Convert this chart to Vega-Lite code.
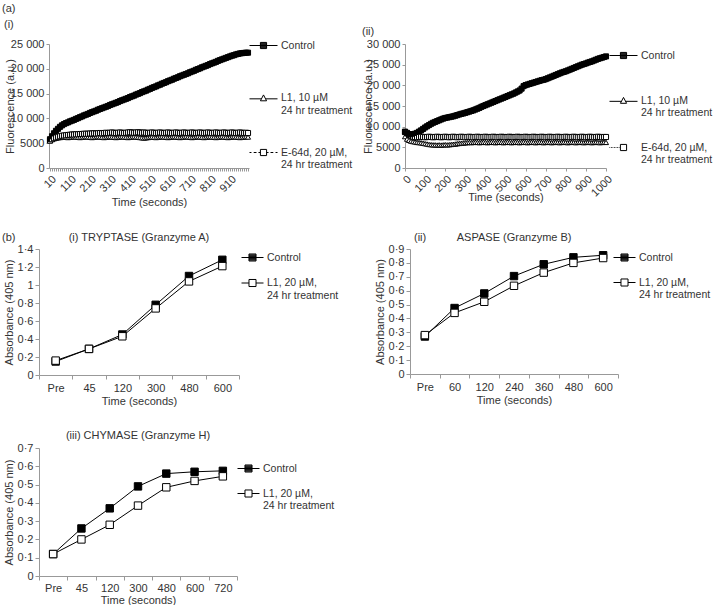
{
"$schema": "https://vega.github.io/schema/vega-lite/v6.json",
"background": "white",
"padding": {"left": 2, "top": 3, "right": 0, "bottom": 0},
"config": {
 "font": "Liberation Sans",
 "view": {"stroke": null},
 "axis": {"grid": false, "domainColor": "#999", "tickColor": "#999", "labelColor": "#333", "titleColor": "#333", "labelFontSize": 11, "titleFontSize": 11, "titleFontWeight": "normal", "tickSize": 4, "labelPadding": 2, "titlePadding": 3},
 "legend": {"labelFontSize": 10.5, "labelColor": "#333", "labelLimit": 0, "padding": 0, "offset": 2, "labelOffset": 3, "symbolStrokeColor": "black", "symbolStrokeWidth": 1, "symbolOpacity": 1},
 "title": {"fontSize": 11, "fontWeight": "normal", "color": "#333", "font": "Liberation Sans"}
},
"datasets": {
 "a1": [
{"t":10,"c":5800,"l":5600,"e":5500},{"t":20,"c":6400,"l":5800,"e":5800},{"t":30,"c":7000,"l":5950,"e":6000},{"t":40,"c":7500,"l":6050,"e":6150},{"t":50,"c":7900,"l":6100,"e":6300},{"t":60,"c":8300,"l":6150,"e":6400},{"t":70,"c":8600,"l":6200,"e":6500},{"t":80,"c":8850,"l":6250,"e":6550},{"t":90,"c":9050,"l":6200,"e":6600},{"t":100,"c":9200,"l":6150,"e":6650},
{"t":110,"c":9400,"l":6200,"e":6700},{"t":120,"c":9550,"l":6250,"e":6750},{"t":130,"c":9700,"l":6300,"e":6750},{"t":140,"c":9900,"l":6250,"e":6800},{"t":150,"c":10050,"l":6200,"e":6800},{"t":160,"c":10250,"l":6150,"e":6850},{"t":170,"c":10400,"l":6200,"e":6850},{"t":180,"c":10600,"l":6250,"e":6900},{"t":190,"c":10750,"l":6300,"e":6900},{"t":200,"c":10900,"l":6250,"e":6900},
{"t":210,"c":11100,"l":6200,"e":6950},{"t":220,"c":11250,"l":6150,"e":6950},{"t":230,"c":11400,"l":6200,"e":7000},{"t":240,"c":11550,"l":6250,"e":6950},{"t":250,"c":11750,"l":6300,"e":7000},{"t":260,"c":11900,"l":6250,"e":7050},{"t":270,"c":12050,"l":6200,"e":7000},{"t":280,"c":12200,"l":6150,"e":7050},{"t":290,"c":12350,"l":6200,"e":7100},{"t":300,"c":12500,"l":6250,"e":7050},
{"t":310,"c":12700,"l":6300,"e":7100},{"t":320,"c":12850,"l":6250,"e":7150},{"t":330,"c":13000,"l":6200,"e":7100},{"t":340,"c":13150,"l":6150,"e":7050},{"t":350,"c":13300,"l":6200,"e":7100},{"t":360,"c":13500,"l":6250,"e":7150},{"t":370,"c":13650,"l":6300,"e":7100},{"t":380,"c":13800,"l":6250,"e":7050},{"t":390,"c":13950,"l":6200,"e":7100},{"t":400,"c":14100,"l":6150,"e":7150},
{"t":410,"c":14300,"l":6200,"e":7200},{"t":420,"c":14450,"l":6250,"e":7150},{"t":430,"c":14600,"l":6300,"e":7100},{"t":440,"c":14800,"l":6250,"e":7150},{"t":450,"c":14950,"l":6200,"e":7200},{"t":460,"c":15100,"l":6150,"e":7150},{"t":470,"c":15300,"l":6100,"e":7100},{"t":480,"c":15450,"l":6050,"e":7150},{"t":490,"c":15600,"l":6100,"e":7100},{"t":500,"c":15800,"l":6150,"e":7050},
{"t":510,"c":15950,"l":6200,"e":7100},{"t":520,"c":16150,"l":6250,"e":7150},{"t":530,"c":16300,"l":6200,"e":7100},{"t":540,"c":16450,"l":6150,"e":7050},{"t":550,"c":16650,"l":6200,"e":7100},{"t":560,"c":16800,"l":6250,"e":7150},{"t":570,"c":17000,"l":6300,"e":7100},{"t":580,"c":17150,"l":6250,"e":7050},{"t":590,"c":17300,"l":6200,"e":7100},{"t":600,"c":17500,"l":6150,"e":7150},
{"t":610,"c":17650,"l":6200,"e":7100},{"t":620,"c":17800,"l":6250,"e":7050},{"t":630,"c":18000,"l":6300,"e":7100},{"t":640,"c":18150,"l":6250,"e":7150},{"t":650,"c":18300,"l":6200,"e":7100},{"t":660,"c":18500,"l":6150,"e":7050},{"t":670,"c":18650,"l":6200,"e":7100},{"t":680,"c":18800,"l":6250,"e":7150},{"t":690,"c":18950,"l":6300,"e":7100},{"t":700,"c":19100,"l":6250,"e":7050},
{"t":710,"c":19300,"l":6200,"e":7100},{"t":720,"c":19450,"l":6150,"e":7150},{"t":730,"c":19600,"l":6200,"e":7100},{"t":740,"c":19800,"l":6250,"e":7050},{"t":750,"c":19950,"l":6300,"e":7100},{"t":760,"c":20100,"l":6250,"e":7150},{"t":770,"c":20300,"l":6200,"e":7100},{"t":780,"c":20450,"l":6150,"e":7050},{"t":790,"c":20600,"l":6200,"e":7100},{"t":800,"c":20750,"l":6250,"e":7150},
{"t":810,"c":20950,"l":6300,"e":7100},{"t":820,"c":21100,"l":6250,"e":7050},{"t":830,"c":21250,"l":6200,"e":7100},{"t":840,"c":21400,"l":6150,"e":7150},{"t":850,"c":21600,"l":6200,"e":7100},{"t":860,"c":21750,"l":6250,"e":7050},{"t":870,"c":21900,"l":6300,"e":7100},{"t":880,"c":22050,"l":6250,"e":7150},{"t":890,"c":22200,"l":6200,"e":7100},{"t":900,"c":22350,"l":6150,"e":7050},
{"t":910,"c":22500,"l":6200,"e":7100},{"t":920,"c":22650,"l":6250,"e":7150},{"t":930,"c":22750,"l":6300,"e":7100},{"t":940,"c":22900,"l":6250,"e":7050},{"t":950,"c":23000,"l":6200,"e":7100},{"t":960,"c":23100,"l":6150,"e":7150},{"t":970,"c":23150,"l":6200,"e":7100},{"t":980,"c":23200,"l":6250,"e":7050},{"t":990,"c":23250,"l":6300,"e":7100},{"t":1000,"c":23250,"l":6250,"e":7050}
 ],
 "a2": [
{"t":0,"c":8700,"l":7600,"e":8800},{"t":10,"c":8400,"l":7000,"e":8500},{"t":20,"c":8200,"l":6700,"e":8100},{"t":30,"c":8100,"l":6500,"e":7800},{"t":40,"c":8150,"l":6400,"e":7600},{"t":50,"c":8300,"l":6300,"e":7500},{"t":60,"c":8500,"l":6200,"e":7450},{"t":70,"c":8800,"l":6150,"e":7500},{"t":80,"c":9100,"l":6100,"e":7550},{"t":90,"c":9450,"l":6000,"e":7500},
{"t":100,"c":9800,"l":5900,"e":7450},{"t":110,"c":10100,"l":5800,"e":7500},{"t":120,"c":10400,"l":5700,"e":7550},{"t":130,"c":10700,"l":5650,"e":7500},{"t":140,"c":10950,"l":5600,"e":7450},{"t":150,"c":11150,"l":5600,"e":7500},{"t":160,"c":11350,"l":5550,"e":7550},{"t":170,"c":11550,"l":5600,"e":7500},{"t":180,"c":11750,"l":5550,"e":7450},{"t":190,"c":11950,"l":5600,"e":7500},
{"t":200,"c":12100,"l":5650,"e":7550},{"t":210,"c":12200,"l":5600,"e":7500},{"t":220,"c":12300,"l":5650,"e":7450},{"t":230,"c":12400,"l":5700,"e":7500},{"t":240,"c":12500,"l":5750,"e":7550},{"t":250,"c":12650,"l":5800,"e":7500},{"t":260,"c":12800,"l":5900,"e":7450},{"t":270,"c":12950,"l":5950,"e":7500},{"t":280,"c":13100,"l":6000,"e":7550},{"t":290,"c":13200,"l":6050,"e":7500},
{"t":300,"c":13350,"l":6100,"e":7450},{"t":310,"c":13500,"l":6150,"e":7500},{"t":320,"c":13650,"l":6200,"e":7550},{"t":330,"c":13800,"l":6150,"e":7500},{"t":340,"c":13950,"l":6200,"e":7450},{"t":350,"c":14150,"l":6250,"e":7500},{"t":360,"c":14350,"l":6200,"e":7550},{"t":370,"c":14550,"l":6150,"e":7500},{"t":380,"c":14800,"l":6200,"e":7450},{"t":390,"c":15000,"l":6250,"e":7500},
{"t":400,"c":15200,"l":6200,"e":7550},{"t":410,"c":15400,"l":6150,"e":7500},{"t":420,"c":15600,"l":6200,"e":7450},{"t":430,"c":15800,"l":6250,"e":7500},{"t":440,"c":16000,"l":6200,"e":7550},{"t":450,"c":16200,"l":6150,"e":7500},{"t":460,"c":16400,"l":6200,"e":7450},{"t":470,"c":16600,"l":6250,"e":7500},{"t":480,"c":16800,"l":6200,"e":7550},{"t":490,"c":17000,"l":6150,"e":7500},
{"t":500,"c":17200,"l":6200,"e":7450},{"t":510,"c":17400,"l":6250,"e":7500},{"t":520,"c":17600,"l":6200,"e":7550},{"t":530,"c":17800,"l":6150,"e":7500},{"t":540,"c":18000,"l":6200,"e":7450},{"t":550,"c":18250,"l":6250,"e":7500},{"t":560,"c":18500,"l":6200,"e":7550},{"t":570,"c":18750,"l":6150,"e":7500},{"t":580,"c":19200,"l":6200,"e":7450},{"t":590,"c":19800,"l":6250,"e":7500},
{"t":600,"c":20050,"l":6200,"e":7550},{"t":610,"c":20200,"l":6150,"e":7500},{"t":620,"c":20350,"l":6200,"e":7450},{"t":630,"c":20500,"l":6250,"e":7500},{"t":640,"c":20650,"l":6200,"e":7550},{"t":650,"c":20800,"l":6150,"e":7500},{"t":660,"c":20950,"l":6200,"e":7450},{"t":670,"c":21100,"l":6250,"e":7500},{"t":680,"c":21250,"l":6200,"e":7550},{"t":690,"c":21350,"l":6150,"e":7500},
{"t":700,"c":21500,"l":6200,"e":7450},{"t":710,"c":21700,"l":6250,"e":7500},{"t":720,"c":21900,"l":6200,"e":7550},{"t":730,"c":22100,"l":6150,"e":7500},{"t":740,"c":22300,"l":6200,"e":7450},{"t":750,"c":22500,"l":6250,"e":7500},{"t":760,"c":22700,"l":6200,"e":7550},{"t":770,"c":22900,"l":6150,"e":7500},{"t":780,"c":23100,"l":6200,"e":7450},{"t":790,"c":23250,"l":6250,"e":7500},
{"t":800,"c":23400,"l":6200,"e":7550},{"t":810,"c":23600,"l":6150,"e":7500},{"t":820,"c":23800,"l":6200,"e":7450},{"t":830,"c":24000,"l":6250,"e":7500},{"t":840,"c":24200,"l":6200,"e":7550},{"t":850,"c":24400,"l":6150,"e":7500},{"t":860,"c":24600,"l":6200,"e":7450},{"t":870,"c":24800,"l":6250,"e":7500},{"t":880,"c":25000,"l":6200,"e":7550},{"t":890,"c":25150,"l":6150,"e":7500},
{"t":900,"c":25300,"l":6200,"e":7450},{"t":910,"c":25500,"l":6250,"e":7500},{"t":920,"c":25650,"l":6200,"e":7550},{"t":930,"c":25800,"l":6150,"e":7500},{"t":940,"c":26000,"l":6200,"e":7450},{"t":950,"c":26200,"l":6250,"e":7500},{"t":960,"c":26400,"l":6200,"e":7550},{"t":970,"c":26550,"l":6150,"e":7500},{"t":980,"c":26700,"l":6200,"e":7450},{"t":990,"c":26850,"l":6250,"e":7500},{"t":1000,"c":27000,"l":6200,"e":7500}
 ],
 "b1": [
{"cat":"Pre","c":0.15,"l":0.16},{"cat":"45","c":0.29,"l":0.29},{"cat":"120","c":0.45,"l":0.43},{"cat":"300","c":0.78,"l":0.74},{"cat":"480","c":1.10,"l":1.04},{"cat":"600","c":1.28,"l":1.21}
 ],
 "b2": [
{"cat":"Pre","c":0.27,"l":0.28},{"cat":"60","c":0.475,"l":0.44},{"cat":"120","c":0.58,"l":0.52},{"cat":"240","c":0.705,"l":0.635},{"cat":"360","c":0.79,"l":0.73},{"cat":"480","c":0.84,"l":0.80},{"cat":"600","c":0.855,"l":0.835}
 ],
 "b3": [
{"cat":"Pre","c":0.12,"l":0.12},{"cat":"45","c":0.26,"l":0.20},{"cat":"120","c":0.37,"l":0.28},{"cat":"300","c":0.49,"l":0.385},{"cat":"480","c":0.56,"l":0.485},{"cat":"600","c":0.57,"l":0.52},{"cat":"720","c":0.575,"l":0.545}
 ],
 "none": [{"k": 1}]
},
"spacing": 24,
"vconcat": [
 {
  "title": {"text": "(a)", "anchor": "start", "offset": 5},
  "spacing": 0,
  "hconcat": [
   {"width": 1, "height": 1, "data": {"name": "none"}, "mark": {"type": "point", "opacity": 0, "size": 0}, "encoding": {}},
   {
    "spacing": 8,
    "hconcat": [
     {
      "width": 200, "height": 124,
      "title": {"text": "(i)", "anchor": "start", "offset": 1},
      "data": {"name": "a1"},
      "transform": [{"fold": ["l", "e", "c"], "as": ["s", "v"]}],
      "encoding": {
       "x": {"field": "t", "type": "quantitative", "title": "Time (seconds)", "scale": {"domain": [5, 1005], "nice": false, "zero": false},
        "axis": {"tickCount": 100, "tickSize": 3, "labelAngle": -45, "labelOverlap": false, "labelFlush": false, "labelExpr": "datum.value % 100 == 10 && datum.value < 1000 ? datum.label : ''"}},
       "y": {"field": "v", "type": "quantitative", "title": "Fluorescence (a.u.)", "scale": {"domain": [0, 25000], "nice": false},
        "axis": {"values": [0, 5000, 10000, 15000, 20000, 25000], "tickSize": 3, "titleX": -34, "labelExpr": "datum.value >= 10000 ? replace(format(datum.value, ','), ',', ' ') : format(datum.value, 'd')"}}
      },
      "layer": [
       {"mark": {"type": "line", "color": "black", "strokeWidth": 1},
        "encoding": {"strokeDash": {"field": "s", "type": "nominal", "scale": {"domain": ["c", "l", "e"], "range": [[1, 0], [1, 0], [3, 2]]}, "legend": null}}},
       {"mark": {"type": "point", "filled": true, "stroke": "black", "strokeWidth": 1, "size": 26, "opacity": 1},
        "encoding": {
         "shape": {"field": "s", "type": "nominal", "scale": {"domain": ["c", "l", "e"], "range": ["square", "triangle-up", "square"]}, "legend": null},
         "fill": {"field": "s", "type": "nominal", "scale": {"domain": ["c", "l", "e"], "range": ["black", "white", "white"]}, "legend": null}}},
       {"transform": [{"filter": "false"}],
        "mark": {"type": "point", "filled": false, "color": "black", "strokeWidth": 1, "opacity": 1},
        "encoding": {
         "shape": {"field": "s", "type": "nominal", "scale": {"domain": ["c", "l", "e"], "range": ["M0,-1M0,1M-1,0H1M-0.22,-0.22H0.22V0.22H-0.22ZM-0.22,-0.165H0.22M-0.22,-0.11H0.22M-0.22,-0.055H0.22M-0.22,0.055H0.22M-0.22,0.11H0.22M-0.22,0.165H0.22", "M0,-1M0,1M-1,0.06H-0.15M0.15,0.06H1M-0.22,0.2L0,-0.22L0.22,0.2Z", "M0,-1M0,1M-1,0H-0.86M-0.7,0H-0.5M-0.36,0H-0.22M0.22,0H0.36M0.5,0H0.7M0.86,0H1M-0.22,-0.22H0.22V0.22H-0.22Z"]},
          "legend": {"title": null, "orient": "none", "legendX": 200, "legendY": -13, "symbolSize": 784, "rowPadding": 19.5, "symbolOpacity": 1, "symbolStrokeColor": "black", "labelExpr": "datum.value == 'c' ? 'Control' : datum.value == 'l' ? ['L1, 10 µM', '24 hr treatment'] : ['E-64d, 20 µM,', '24 hr treatment']"}}}}
      ],
      "resolve": {"scale": {"shape": "independent"}}
     },
     {
      "width": 201, "height": 124,
      "title": {"text": "(ii)", "anchor": "start", "offset": 1},
      "data": {"name": "a2"},
      "transform": [{"fold": ["l", "e", "c"], "as": ["s", "v"]}],
      "encoding": {
       "x": {"field": "t", "type": "quantitative", "title": "Time (seconds)", "scale": {"domain": [0, 1000], "nice": false, "zero": false},
        "axis": {"values": [0, 100, 200, 300, 400, 500, 600, 700, 800, 900, 1000], "format": "d", "tickSize": 3, "labelAngle": -45, "labelOverlap": false, "labelFlush": false, "titlePadding": -7}},
       "y": {"field": "v", "type": "quantitative", "title": "Fluorescence (a.u.)", "scale": {"domain": [0, 30000], "nice": false},
        "axis": {"values": [0, 5000, 10000, 15000, 20000, 25000, 30000], "tickSize": 3, "titleX": -32, "labelExpr": "datum.value >= 10000 ? replace(format(datum.value, ','), ',', ' ') : format(datum.value, 'd')"}}
      },
      "layer": [
       {"mark": {"type": "line", "color": "black", "strokeWidth": 1},
        "encoding": {"strokeDash": {"field": "s", "type": "nominal", "scale": {"domain": ["c", "l", "e"], "range": [[1, 0], [1, 0], [1, 2]]}, "legend": null}}},
       {"mark": {"type": "point", "filled": true, "stroke": "black", "strokeWidth": 1, "size": 26, "opacity": 1},
        "encoding": {
         "shape": {"field": "s", "type": "nominal", "scale": {"domain": ["c", "l", "e"], "range": ["square", "triangle-up", "square"]}, "legend": null},
         "fill": {"field": "s", "type": "nominal", "scale": {"domain": ["c", "l", "e"], "range": ["black", "white", "white"]}, "legend": null}}},
       {"transform": [{"filter": "false"}],
        "mark": {"type": "point", "filled": false, "color": "black", "strokeWidth": 1, "opacity": 1},
        "encoding": {
         "shape": {"field": "s", "type": "nominal", "scale": {"domain": ["c", "l", "e"], "range": ["M0,-1M0,1M-1,0H1M-0.22,-0.22H0.22V0.22H-0.22ZM-0.22,-0.165H0.22M-0.22,-0.11H0.22M-0.22,-0.055H0.22M-0.22,0.055H0.22M-0.22,0.11H0.22M-0.22,0.165H0.22", "M0,-1M0,1M-1,0.06H-0.15M0.15,0.06H1M-0.22,0.2L0,-0.22L0.22,0.2Z", "M0,-1M0,1M-1,0h0.05m0.06,0h0.05m0.06,0h0.05m0.06,0h0.05m0.06,0h0.05m0.06,0h0.05m0.06,0h0.05M-0.22,-0.22H0.22V0.22H-0.22Z"]},
          "legend": {"title": null, "orient": "none", "legendX": 204, "legendY": -3, "symbolSize": 784, "rowPadding": 12, "symbolOpacity": 1, "symbolStrokeColor": "black", "labelExpr": "datum.value == 'c' ? 'Control' : datum.value == 'l' ? ['L1, 10 µM', '24 hr treatment'] : ['E-64d, 20 µM,', '24 hr treatment']"}}}}
      ],
      "resolve": {"scale": {"shape": "independent"}}
     }
    ]
   }
  ]
 },
 {
  "title": {"text": "(b)", "anchor": "start", "offset": 0, "dy": 11},
  "spacing": 0,
  "hconcat": [
   {"width": 1, "height": 1, "data": {"name": "none"}, "mark": {"type": "point", "opacity": 0, "size": 0}, "encoding": {}},
   {
    "spacing": 35,
    "hconcat": [
     {
      "width": 200, "height": 126,
      "title": {"text": "(i) TRYPTASE (Granzyme A)", "anchor": "middle", "offset": 0},
      "data": {"name": "b1"},
      "transform": [{"fold": ["c", "l"], "as": ["s", "v"]}],
      "encoding": {
       "x": {"field": "cat", "type": "ordinal", "title": "Time (seconds)", "scale": {"type": "band", "domain": ["Pre", "45", "120", "300", "480", "600"], "paddingInner": 0, "paddingOuter": 0}, "axis": {"labelAngle": 0, "tickBand": "extent", "labelPadding": 3, "titlePadding": 2}},
       "y": {"field": "v", "type": "quantitative", "title": "Absorbance (405 nm)", "scale": {"domain": [0, 1.4], "nice": false},
        "axis": {"values": [0, 0.2, 0.4, 0.6, 0.8, 1, 1.2, 1.4], "labelExpr": "replace(format(datum.value, '~g'), '.', '·')"}}
      },
      "layer": [
       {"mark": {"type": "line", "color": "black", "strokeWidth": 1}, "encoding": {"detail": {"field": "s"}}},
       {"mark": {"type": "point", "filled": true, "stroke": "black", "strokeWidth": 1, "size": 55, "shape": "square", "opacity": 1},
        "encoding": {"fill": {"field": "s", "type": "nominal", "scale": {"domain": ["c", "l"], "range": ["black", "white"]}, "legend": null}}},
       {"transform": [{"filter": "false"}],
        "mark": {"type": "point", "filled": false, "color": "black", "strokeWidth": 1, "opacity": 1},
        "encoding": {
         "shape": {"field": "s", "type": "nominal", "scale": {"domain": ["c", "l"], "range": ["M0,-1M0,1M-1,0H1M-0.32,-0.32H0.32V0.32H-0.32ZM-0.32,-0.24H0.32M-0.32,-0.16H0.32M-0.32,-0.08H0.32M-0.32,0.08H0.32M-0.32,0.16H0.32M-0.32,0.24H0.32", "M0,-1M0,1M-1,0H-0.32M0.32,0H1M-0.32,-0.32H0.32V0.32H-0.32Z"]},
          "legend": {"title": null, "orient": "none", "legendX": 202, "legendY": -3, "symbolSize": 484, "rowPadding": -1.5, "symbolOpacity": 1, "symbolStrokeColor": "black", "labelExpr": "datum.value == 'c' ? 'Control' : ['L1, 20 µM,', '24 hr treatment']"}}}}
      ],
      "resolve": {"scale": {"shape": "independent", "fill": "independent"}}
     },
     {
      "width": 208, "height": 125,
      "title": {"text": "(ii)\u00a0\u00a0\u00a0\u00a0\u00a0\u00a0\u00a0\u00a0\u00a0\u00a0ASPASE (Granzyme B)", "anchor": "start", "frame": "group", "dx": 4, "offset": 0},
      "data": {"name": "b2"},
      "transform": [{"fold": ["c", "l"], "as": ["s", "v"]}],
      "encoding": {
       "x": {"field": "cat", "type": "ordinal", "title": "Time (seconds)", "scale": {"type": "band", "domain": ["Pre", "60", "120", "240", "360", "480", "600"], "paddingInner": 0, "paddingOuter": 0}, "axis": {"labelAngle": 0, "tickBand": "extent", "labelPadding": 3, "titlePadding": 2}},
       "y": {"field": "v", "type": "quantitative", "title": "Absorbance (405 nm)", "scale": {"domain": [0, 0.9], "nice": false},
        "axis": {"values": [0, 0.1, 0.2, 0.3, 0.4, 0.5, 0.6, 0.7, 0.8, 0.9], "labelExpr": "replace(format(datum.value, '~g'), '.', '·')"}}
      },
      "layer": [
       {"mark": {"type": "line", "color": "black", "strokeWidth": 1}, "encoding": {"detail": {"field": "s"}}},
       {"mark": {"type": "point", "filled": true, "stroke": "black", "strokeWidth": 1, "size": 55, "shape": "square", "opacity": 1},
        "encoding": {"fill": {"field": "s", "type": "nominal", "scale": {"domain": ["c", "l"], "range": ["black", "white"]}, "legend": null}}},
       {"transform": [{"filter": "false"}],
        "mark": {"type": "point", "filled": false, "color": "black", "strokeWidth": 1, "opacity": 1},
        "encoding": {
         "shape": {"field": "s", "type": "nominal", "scale": {"domain": ["c", "l"], "range": ["M0,-1M0,1M-1,0H1M-0.32,-0.32H0.32V0.32H-0.32ZM-0.32,-0.24H0.32M-0.32,-0.16H0.32M-0.32,-0.08H0.32M-0.32,0.08H0.32M-0.32,0.16H0.32M-0.32,0.24H0.32", "M0,-1M0,1M-1,0H-0.32M0.32,0H1M-0.32,-0.32H0.32V0.32H-0.32Z"]},
          "legend": {"title": null, "orient": "none", "legendX": 203, "legendY": -3, "symbolSize": 484, "rowPadding": -4.5, "symbolOpacity": 1, "symbolStrokeColor": "black", "labelExpr": "datum.value == 'c' ? 'Control' : ['L1, 20 µM,', '24 hr treatment']"}}}}
      ],
      "resolve": {"scale": {"shape": "independent", "fill": "independent"}}
     }
    ]
   }
  ]
 },
 {
  "spacing": 0,
  "hconcat": [
   {"width": 1, "height": 1, "data": {"name": "none"}, "mark": {"type": "point", "opacity": 0, "size": 0}, "encoding": {}},
   {
    "width": 198, "height": 128,
    "title": {"text": "(iii) CHYMASE (Granzyme H)", "anchor": "middle", "offset": 1},
    "data": {"name": "b3"},
    "transform": [{"fold": ["c", "l"], "as": ["s", "v"]}],
    "encoding": {
     "x": {"field": "cat", "type": "ordinal", "title": "Time (seconds)", "scale": {"type": "band", "domain": ["Pre", "45", "120", "300", "480", "600", "720"], "paddingInner": 0, "paddingOuter": 0}, "axis": {"labelAngle": 0, "tickBand": "extent", "labelPadding": 2, "titlePadding": 1}},
     "y": {"field": "v", "type": "quantitative", "title": "Absorbance (405 nm)", "scale": {"domain": [0, 0.7], "nice": false},
      "axis": {"values": [0, 0.1, 0.2, 0.3, 0.4, 0.5, 0.6, 0.7], "labelExpr": "replace(format(datum.value, '~g'), '.', '·')"}}
    },
    "layer": [
     {"mark": {"type": "line", "color": "black", "strokeWidth": 1}, "encoding": {"detail": {"field": "s"}}},
     {"mark": {"type": "point", "filled": true, "stroke": "black", "strokeWidth": 1, "size": 55, "shape": "square", "opacity": 1},
      "encoding": {"fill": {"field": "s", "type": "nominal", "scale": {"domain": ["c", "l"], "range": ["black", "white"]}, "legend": null}}},
     {"transform": [{"filter": "false"}],
      "mark": {"type": "point", "filled": false, "color": "black", "strokeWidth": 1, "opacity": 1},
      "encoding": {
       "shape": {"field": "s", "type": "nominal", "scale": {"domain": ["c", "l"], "range": ["M0,-1M0,1M-1,0H1M-0.32,-0.32H0.32V0.32H-0.32ZM-0.32,-0.24H0.32M-0.32,-0.16H0.32M-0.32,-0.08H0.32M-0.32,0.08H0.32M-0.32,0.16H0.32M-0.32,0.24H0.32", "M0,-1M0,1M-1,0H-0.32M0.32,0H1M-0.32,-0.32H0.32V0.32H-0.32Z"]},
        "legend": {"title": null, "orient": "none", "legendX": 198, "legendY": 9, "symbolSize": 484, "rowPadding": -4, "symbolOpacity": 1, "symbolStrokeColor": "black", "labelExpr": "datum.value == 'c' ? 'Control' : ['L1, 20 µM,', '24 hr treatment']"}}}}
    ],
    "resolve": {"scale": {"shape": "independent", "fill": "independent"}}
   }
  ]
 }
]
}
